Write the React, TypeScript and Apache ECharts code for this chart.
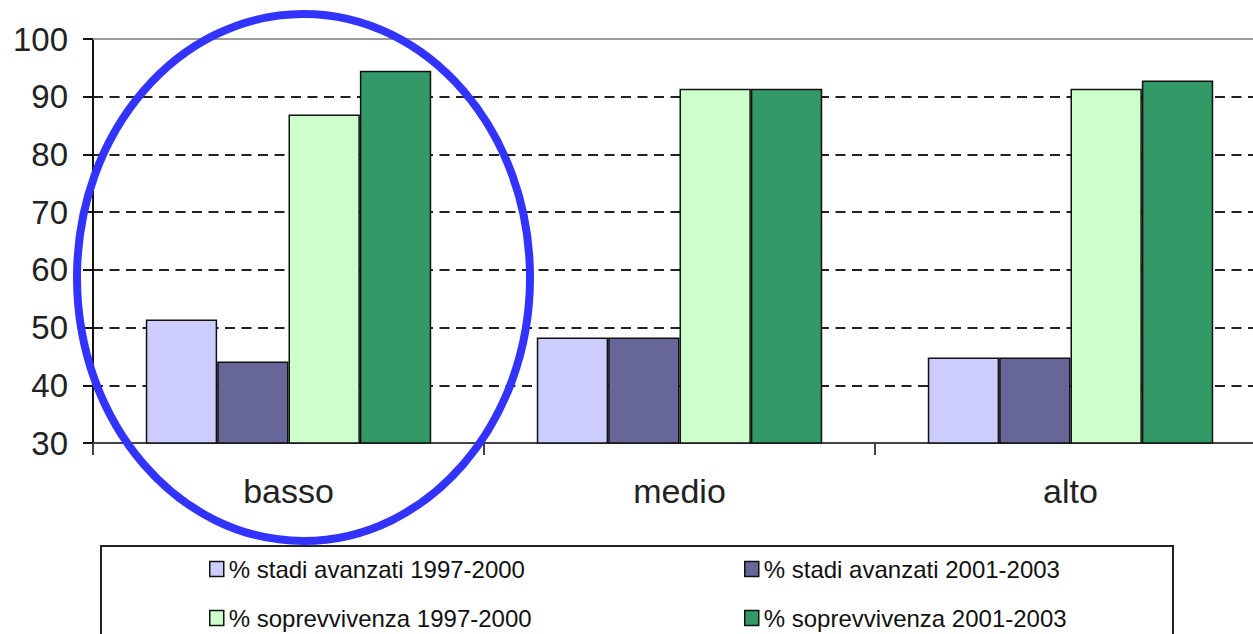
import React, { useEffect, useRef } from "react";
import * as echarts from "echarts";

const categories = ["basso", "medio", "alto"];
const seriesNames = [
  "% stadi avanzati 1997-2000",
  "% stadi avanzati 2001-2003",
  "% soprevvivenza 1997-2000",
  "% soprevvivenza 2001-2003",
];
const stadi1997 = [51.4, 48.3, 44.8];
const stadi2001 = [44.1, 48.3, 44.8];
const soprav1997 = [86.9, 91.4, 91.4];
const soprav2001 = [94.5, 91.4, 92.8];
const seriesColors = ["#CCCCFF", "#666699", "#CCFFCC", "#339966"];
const yTicks = { min: 30, max: 100, interval: 10 };

const FONT = "'Liberation Sans', Arial, sans-serif";

export default function App() {
  const ref = useRef<HTMLDivElement>(null);

  useEffect(() => {
    if (!ref.current) return;
    const chart = echarts.init(ref.current, null, { renderer: "svg" });
    const values = [stadi1997, stadi2001, soprav1997, soprav2001];
    const legendText = { fontSize: 24, fontFamily: FONT, color: "#111", lineHeight: 26 };
    const legendCommon = {
      orient: "vertical" as const,
      top: 556,
      padding: 0,
      itemWidth: 14,
      itemHeight: 15,
      itemGap: 23,
      icon: "rect",
      textStyle: legendText,
      itemStyle: { borderColor: "#111", borderWidth: 1.5 },
      selectedMode: false,
    };
    chart.setOption({
      animation: false,
      backgroundColor: "#ffffff",
      grid: { left: 93, top: 39, width: 1173, height: 404, show: false },
      xAxis: {
        type: "category",
        data: categories,
        axisLine: { show: true, lineStyle: { color: "#444", width: 2 } },
        axisTick: { show: true, length: 12, alignWithLabel: false, lineStyle: { color: "#444", width: 2 } },
        axisLabel: { fontSize: 34, fontFamily: FONT, color: "#222", margin: 31 },
        splitLine: { show: false },
      },
      yAxis: {
        type: "value",
        min: yTicks.min,
        max: yTicks.max,
        interval: yTicks.interval,
        axisLine: { show: true, lineStyle: { color: "#111", width: 2 } },
        axisTick: { show: true, length: 10, lineStyle: { color: "#111", width: 2 } },
        axisLabel: { fontSize: 33, fontFamily: FONT, color: "#222", margin: 25 },
        splitLine: {
          show: true,
          lineStyle: {
            color: ["#222", "#222", "#222", "#222", "#222", "#222", "#222", "transparent"],
            width: 2,
            type: [10, 6.5],
          },
        },
      },
      legend: [
        { ...legendCommon, left: 209, data: [seriesNames[0], seriesNames[2]] },
        { ...legendCommon, left: 744, data: [seriesNames[1], seriesNames[3]] },
      ],
      series: seriesNames.map((name, i) => ({
        name,
        type: "bar",
        data: values[i],
        barGap: "0%",
        barCategoryGap: "27%",
        itemStyle: { color: seriesColors[i], borderColor: "#111", borderWidth: 1.5 },
        ...(i === 0
          ? {
              markLine: {
                silent: true,
                symbol: "none",
                label: { show: false },
                lineStyle: { color: "#999", type: "solid", width: 2 },
                data: [{ yAxis: yTicks.max }],
              },
            }
          : {}),
      })),
      graphic: [
        {
          type: "rect",
          shape: { x: 101, y: 546, width: 1072, height: 120 },
          style: { fill: "none", stroke: "#222", lineWidth: 2 },
          z: 10,
        },
        {
          type: "ellipse",
          shape: { cx: 303.5, cy: 277.5, rx: 226.5, ry: 263.5 },
          style: { fill: "none", stroke: "#3333FF", lineWidth: 8 },
          z: 20,
        },
      ],
    });
    return () => chart.dispose();
  }, []);

  return (
    <div
      style={{
        position: "fixed",
        left: 0,
        top: 0,
        width: 1253,
        height: 634,
        overflow: "hidden",
        background: "#fff",
      }}
    >
      <div ref={ref} style={{ width: 1300, height: 634 }} />
    </div>
  );
}
